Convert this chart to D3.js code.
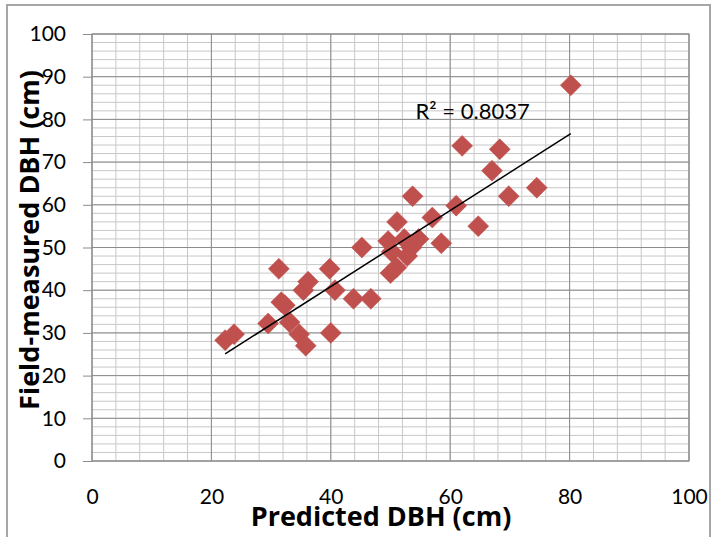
<!DOCTYPE html>
<html>
<head>
<meta charset="utf-8">
<script src="https://cdn.jsdelivr.net/npm/d3@7"></script>
<style>
  body { margin: 0; background: #fff; }
  svg { display: block; font-family: Lato, "Open Sans", sans-serif; }
</style>
</head>
<body>
<div id="chart-area"></div>
<script>
// predicted DBH (cm) vs field-measured DBH (cm)
const predicted = [22.3, 23.8, 29.5, 31.3, 31.7, 32.3, 33.1, 34.7, 35.8, 35.4,
  36.2, 39.8, 40.0, 40.7, 43.8, 45.2, 46.7, 49.6, 50.2, 51.1,
  50.0, 51.0, 52.3, 52.8, 53.5, 54.7, 53.7, 57.0, 58.5, 61.0,
  62.0, 64.7, 67.0, 68.3, 69.8, 74.5, 80.2];
const measured = [28.3, 29.7, 32.2, 45.0, 37.2, 36.5, 32.5, 29.7, 27.0, 40.0,
  42.0, 45.0, 30.0, 40.0, 38.0, 50.0, 38.0, 51.5, 49.0, 56.0,
  44.0, 45.3, 52.0, 48.0, 50.0, 52.0, 62.0, 57.0, 51.0, 59.8,
  73.8, 55.0, 68.0, 73.0, 62.0, 64.0, 88.0];
const xTicks = [0, 20, 40, 60, 80, 100];
const yTicks = [0, 10, 20, 30, 40, 50, 60, 70, 80, 90, 100];
const rSquaredLabel = "R² = 0.8037";

const chartSize = { width: 716, height: 537 };
const margin = { left: 92, right: 27, top: 34, bottom: 76 };
const width = chartSize.width - margin.left - margin.right;
const height = chartSize.height - margin.top - margin.bottom;

const points = predicted.map((p, i) => ({ x: p, y: measured[i] }));

const x = d3.scaleLinear().domain([0, 100]).range([0, width]);
const y = d3.scaleLinear().domain([0, 100]).range([height, 0]);

// least squares trend line
const mx = d3.mean(points, d => d.x);
const my = d3.mean(points, d => d.y);
const slope = d3.sum(points, d => (d.x - mx) * (d.y - my)) / d3.sum(points, d => (d.x - mx) ** 2);
const intercept = my - slope * mx;
const [xMin, xMax] = d3.extent(points, d => d.x);

const svg = d3.select("#chart-area")
  .append("svg")
  .attr("width", chartSize.width)
  .attr("height", chartSize.height);

svg.append("rect")
  .attr("x", 7).attr("y", 5)
  .attr("width", 703).attr("height", 540)
  .attr("fill", "#fff")
  .attr("stroke", "#a6a6a6")
  .attr("stroke-width", 2);

const g = svg.append("g")
  .attr("transform", `translate(${margin.left},${margin.top})`);

// minor grid
g.append("g")
  .selectAll("line")
  .data(d3.range(0, 101, 2))
  .join("line")
  .attr("x1", 0).attr("x2", width)
  .attr("y1", d => y(d)).attr("y2", d => y(d))
  .attr("stroke", "#c8c8c8");
g.append("g")
  .selectAll("line")
  .data(d3.range(0, 101, 4))
  .join("line")
  .attr("y1", 0).attr("y2", height)
  .attr("x1", d => x(d)).attr("x2", d => x(d))
  .attr("stroke", "#c8c8c8");

// major grid
g.append("g")
  .selectAll("line")
  .data(yTicks)
  .join("line")
  .attr("x1", 0).attr("x2", width)
  .attr("y1", d => y(d)).attr("y2", d => y(d))
  .attr("stroke", "#8c8c8c");
g.append("g")
  .selectAll("line")
  .data(xTicks)
  .join("line")
  .attr("y1", 0).attr("y2", height)
  .attr("x1", d => x(d)).attr("x2", d => x(d))
  .attr("stroke", "#8c8c8c");

g.append("rect")
  .attr("width", width).attr("height", height)
  .attr("fill", "none")
  .attr("stroke", "#8c8c8c");

const yAxis = d3.axisLeft(y).tickValues(yTicks).tickSize(9).tickPadding(17);
const xAxis = d3.axisBottom(x).tickValues(xTicks).tickSize(0).tickPadding(28);

g.append("g")
  .attr("class", "y-axis")
  .call(yAxis)
  .call(a => a.select(".domain").remove())
  .call(a => a.selectAll("line").attr("stroke", "#8c8c8c"))
  .call(a => a.selectAll("text").attr("font-size", 21).attr("fill", "#000")
    .attr("font-family", "Lato, sans-serif"));

g.append("g")
  .attr("class", "x-axis")
  .attr("transform", `translate(0,${height})`)
  .call(xAxis)
  .call(a => a.select(".domain").remove())
  .call(a => a.selectAll("text").attr("font-size", 21).attr("fill", "#000")
    .attr("font-family", "Lato, sans-serif"));

// points
g.append("g")
  .selectAll("path")
  .data(points)
  .join("path")
  .attr("d", d3.symbol(d3.symbolSquare, 220))
  .attr("transform", d => `translate(${x(d.x)},${y(d.y)}) rotate(45)`)
  .attr("fill", "#c0504d")
  .attr("stroke", "#c0504d")
  .attr("stroke-width", 0.5);

// trend line
g.append("line")
  .attr("x1", x(xMin)).attr("y1", y(intercept + slope * xMin))
  .attr("x2", x(xMax)).attr("y2", y(intercept + slope * xMax))
  .attr("stroke", "#000")
  .attr("stroke-width", 1.5);

g.append("text")
  .attr("x", x(54.2))
  .attr("y", y(80.2))
  .attr("font-size", 22)
  .text(rSquaredLabel);

svg.append("text")
  .attr("x", 381)
  .attr("y", 526)
  .attr("text-anchor", "middle")
  .attr("font-family", "'Open Sans', sans-serif")
  .attr("font-size", 27)
  .attr("font-weight", "bold")
  .text("Predicted DBH (cm)");

svg.append("text")
  .attr("transform", "translate(39,240) rotate(-90)")
  .attr("text-anchor", "middle")
  .attr("font-family", "'Open Sans', sans-serif")
  .attr("font-size", 27)
  .attr("font-weight", "bold")
  .text("Field-measured DBH (cm)");
</script>
</body>
</html>
